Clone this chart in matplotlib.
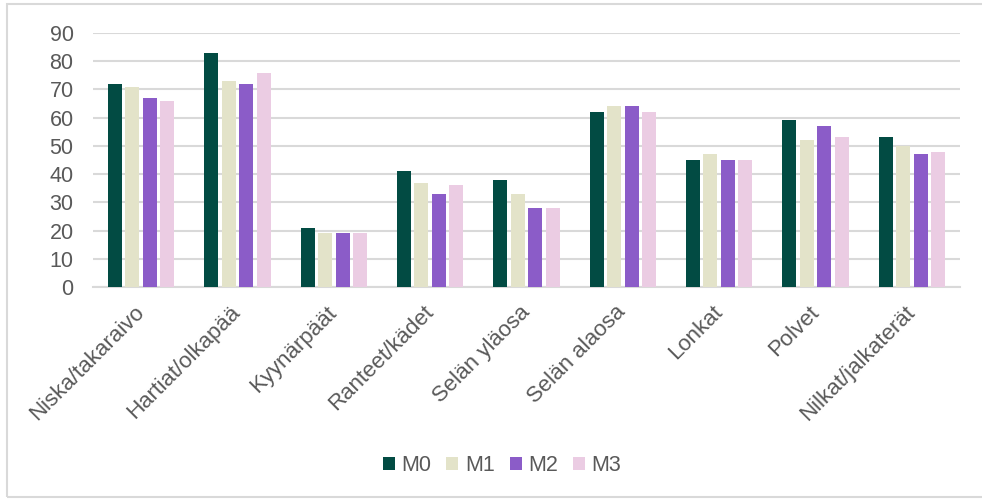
import numpy as np
from matplotlib import pyplot as plt
from matplotlib.patches import Rectangle

plt.rcParams['font.family'] = ['Liberation Sans', 'DejaVu Sans']

categories = ['Niska/takaraivo', 'Hartiat/olkapää', 'Kyynärpäät', 'Ranteet/kädet',
              'Selän yläosa', 'Selän alaosa', 'Lonkat', 'Polvet', 'Nilkat/jalkaterät']
series_names = ['M0', 'M1', 'M2', 'M3']
m0 = [72, 83, 21, 41, 38, 62, 45, 59, 53]
m1 = [71, 73, 19, 37, 33, 64, 47, 52, 50]
m2 = [67, 72, 19, 33, 28, 64, 45, 57, 47]
m3 = [66, 76, 19, 36, 28, 62, 45, 53, 48]
colors = ['#024B43', '#E3E3C9', '#8B5CC8', '#EBCCE3']

fig = plt.figure(figsize=(9.82, 5.0), dpi=100)
ax = fig.add_axes([93 / 982, 1 - 287 / 500, 867 / 982, 254 / 500])

# light frame round the whole chart
fig.patches.append(Rectangle((7 / 982, 3 / 500), 1.2, 493 / 500, transform=fig.transFigure,
                             fill=False, edgecolor='#D9D9D9', linewidth=1.5))

x = np.arange(len(categories))
step = 0.182
width = 0.145
for i, vals in enumerate([m0, m1, m2, m3]):
    ax.bar(x + (i - 1.5) * step, vals, width, color=colors[i], label=series_names[i],
           zorder=3)

fs = 15.5
ax.set_xlim(-0.5, len(categories) - 0.5)
ax.set_ylim(0, 90)
ax.set_yticks(range(0, 91, 10))
ax.yaxis.grid(True, color='#D9D9D9', linewidth=1.5, zorder=0)
for s in ['top', 'right', 'left']:
    ax.spines[s].set_visible(False)
ax.spines['bottom'].set_color('#D9D9D9')
ax.spines['bottom'].set_linewidth(1.5)
ax.tick_params(axis='both', length=0, labelsize=fs, colors='#595959')
ax.tick_params(axis='y', pad=14)
ax.set_xticks(x)
ax.set_xticklabels(categories, rotation=45, ha='right', va='center',
                   rotation_mode='anchor', fontsize=16)
ax.tick_params(axis='x', pad=16)

ax.legend(loc='center', bbox_to_anchor=((502 - 93) / 867, -(466 - 287) / 254), ncol=4,
          frameon=False, fontsize=fs, labelcolor='#595959', handlelength=0.56,
          handleheight=0.56, handletextpad=0.3, columnspacing=0.7)

plt.savefig('out.png', dpi=100)
